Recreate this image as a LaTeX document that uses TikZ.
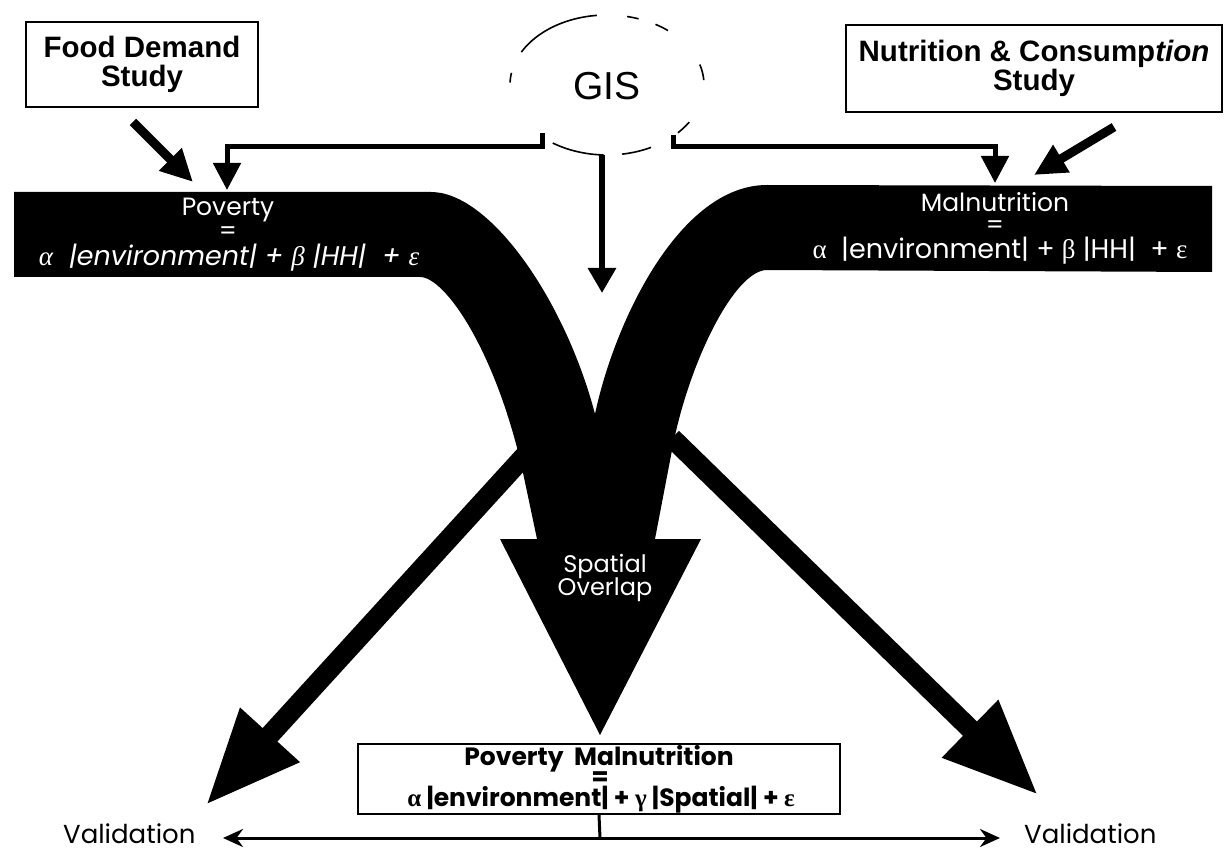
\documentclass[tikz,border=0pt]{standalone}
\usepackage{fontspec}
\usetikzlibrary{arrows.meta}
\newfontfamily\arialfont{Liberation Sans}
\newfontfamily\gothicfont{Poppins}
\newfontfamily\greekfont{Liberation Serif}
\newcommand{\gk}[1]{{\greekfont #1}}
\begin{document}
\begin{tikzpicture}[x=1pt,y=-1pt,
  studybox/.style={draw, line width=2pt, align=center, inner sep=0pt,
    font=\arialfont\fontsize{29.5}{29}\selectfont\bfseries},
  gislabel/.style={font=\arialfont\fontsize{39}{39}\selectfont, inner sep=0pt},
  gisdash/.style={line width=1.6pt},
  conn/.style={line width=5pt, -{Triangle[length=27pt,width=27pt]}},
  fat/.style={line width=9pt, -{Triangle[length=32pt,width=30pt]}},
  big/.style={line width=20pt, -{Triangle[length=95pt,width=75pt]}},
  wtxt/.style={text=white, anchor=base, inner sep=0pt,
    font=\gothicfont\fontsize{25}{25}\selectfont},
  wform/.style={wtxt, font=\gothicfont\fontsize{27}{27}\selectfont},
  btxt/.style={anchor=base, inner sep=0pt,
    font=\gothicfont\fontsize{25}{25}\selectfont\bfseries},
  valtxt/.style={anchor=base west, inner sep=0pt,
    font=\gothicfont\fontsize{26}{26}\selectfont},
  valarrow/.style={line width=3pt, {Stealth[length=20pt,width=18pt]}-{Stealth[length=20pt,width=18pt]}}
]
\useasboundingbox (0,0) rectangle (1227,853);

% ---- the two study boxes ----
\node[studybox, minimum width=232pt, minimum height=85pt] (food) at (142,64.5) {Food Demand\\Study};
\node[studybox, minimum width=376pt, minimum height=87pt] (nutr) at (1034,68.5) {Nutrition \& Consump\textit{tion}\\Study};

% ---- GIS with its broken dashed outline ----
\node[gislabel] (gis) at (607,86) {GIS};
\foreach \a/\b in {96/152, 71/78, 51/60, 4/17, -43/-32, -81/-63, -124/-92, 170/178}
  \draw[gisdash] plot[domain=\a:\b, samples=30] ({607+97*cos(\x)},{85-70*sin(\x)});

% ---- the merging bands and the spatial overlap arrow ----
\fill (14,192) -- (431,192)
  .. controls (490,192) and (565,300) .. (595,414)
  .. controls (615,320) and (680,185) .. (767,185)
  -- (1212,186) -- (1212,272) -- (767,270)
  .. controls (735,270) and (690,360) .. (673,445)
  -- (655,539) -- (701,539) -- (600,735) -- (500,539) -- (537,539) -- (522,468)
  .. controls (495,350) and (445,277) .. (420,277)
  -- (14,277) -- cycle;

% band texts
\node[wtxt] (pov) at (228,216) {Poverty};
\node[wtxt] (poveq) at (228,240) {=};
\node[wform] (povf) at (229,266) {\itshape \gk{α}\ \ |environment|\ + \gk{β}\ |HH|\ \ + \gk{ε}};
\node[wtxt] (mal) at (995,212) {Malnutrition};
\node[wtxt] (maleq) at (995,234) {=};
\node[wform] (malf) at (1000,259) {\gk{α}\ \ |environment|\ + \gk{β}\ |HH|\ \ + \gk{ε}};
\node[wtxt, font=\gothicfont\fontsize{24}{24}\selectfont] (sp1) at (605,572) {Spatial};
\node[wtxt, font=\gothicfont\fontsize{24}{24}\selectfont] (sp2) at (605,595) {Overlap};

% ---- connectors from the GIS ----
\coordinate (gl) at (542,133);
\coordinate (gr) at (673,135);
\coordinate (gc) at (602,155);
\coordinate (povin) at (227,190);
\coordinate (malin) at (995,183);
\coordinate (gcend) at (602,293);
\draw[conn] (gl) -- (542,147) -| (povin);
\draw[conn] (gr) -- (673,147) -| (malin);
\draw[line width=6pt, -{Triangle[length=25pt,width=27pt]}] (gc) -- (gcend);

% ---- inputs from the studies ----
\coordinate (fs) at (133,122);
\coordinate (fe) at (193,182);
\coordinate (ns) at (1114,127);
\coordinate (ne) at (1034,175);
\draw[fat] (fs) -- (fe);
\draw[fat] (ns) -- (ne);

% ---- diagonal arrows towards validation ----
\coordinate (dl0) at (528,452);
\coordinate (dl1) at (206,805);
\coordinate (dr0) at (672,438);
\coordinate (dr1) at (1038,795);
\draw[big] (dl0) -- (dl1);
\draw[big] (dr0) -- (dr1);

% ---- combined model ----
\node[draw, line width=2pt, minimum width=482pt, minimum height=70pt, inner sep=0pt] (model) at (599,779) {};
\node[btxt] (m1) at (599,765) {Poverty\ \ Malnutrition};
\node[btxt] (m2) at (600,785) {=};
\node[btxt] (m3) at (601,806) {\gk{α} |environment| + \gk{γ} |Spatial| + \gk{ε}};

% ---- validation ----
\coordinate (vmid) at (600,838);
\coordinate (vl) at (223,838);
\coordinate (vr) at (1000,838);
\draw[line width=3pt] (model.south) -- (vmid);
\draw[valarrow] (vl) -- (vr);
\node[valtxt] (val1) at (63,843) {Validation};
\node[valtxt] (val2) at (1024,843) {Validation};
\end{tikzpicture}
\end{document}
